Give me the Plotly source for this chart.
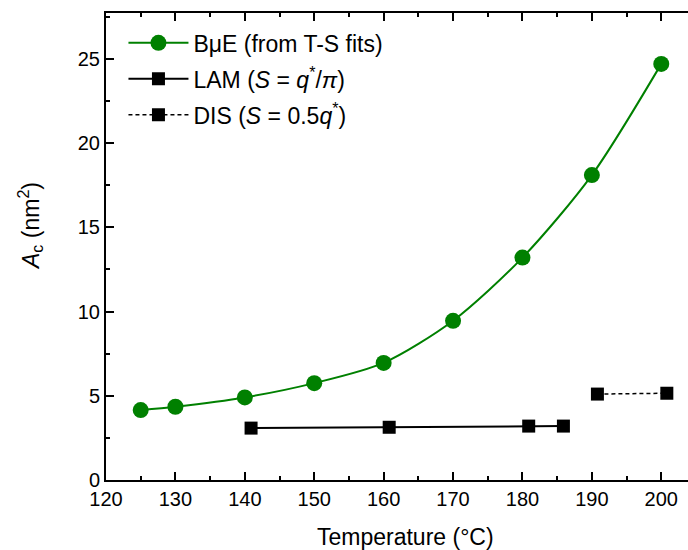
import plotly.graph_objects as go

# Data
bue_T = [125, 130, 140, 150, 160, 170, 180, 190, 200]
bue_A = [4.15, 4.35, 4.9, 5.75, 6.95, 9.45, 13.2, 18.1, 24.7]

lam_T = [140.9, 160.8, 180.9, 185.9]
lam_A = [3.08, 3.13, 3.2, 3.2]

dis_T = [190.8, 200.8]
dis_A = [5.1, 5.15]

x_ticks = [120, 130, 140, 150, 160, 170, 180, 190, 200]
y_ticks = [0, 5, 10, 15, 20, 25]

FONT = "Liberation Sans, Arial, sans-serif"

fig = go.Figure()
fig.add_trace(go.Scatter(
    x=bue_T, y=bue_A, mode="lines+markers",
    name="BμE (from T-S fits)", legendgroup="a",
    line=dict(color="#008000", width=2, shape="spline", smoothing=0.8),
    marker=dict(symbol="circle", size=16, color="#008000"),
))
fig.add_trace(go.Scatter(
    x=lam_T, y=lam_A, mode="lines+markers",
    name="LAM (<i>S</i> = <i>q</i><sup>*</sup>/<i>π</i>)", legendgroup="b",
    line=dict(color="black", width=2),
    marker=dict(symbol="square", size=13, color="black"),
))
fig.add_trace(go.Scatter(
    x=dis_T, y=dis_A, mode="lines+markers",
    name="DIS (<i>S</i> = 0.5<i>q</i><sup>*</sup>)", legendgroup="c",
    line=dict(color="black", width=1.5, dash="4px,3px"),
    marker=dict(symbol="square", size=13, color="black"),
))

axis_common = dict(
    showgrid=False, zeroline=False,
    showline=True, linecolor="black", linewidth=2,
    ticks="inside", ticklen=8, tickwidth=1.5, tickcolor="black",
    tickfont=dict(family=FONT, size=20, color="black"),
)

fig.update_xaxes(
    **axis_common,
    range=[120, 203.85],
    tickvals=x_ticks, ticktext=[str(v) for v in x_ticks],
    mirror="ticks",
    minor=dict(dtick=5, tick0=120, ticks="inside", ticklen=4, tickwidth=1.5, tickcolor="black"),
)
fig.update_yaxes(
    **axis_common,
    range=[0, 27.72],
    tickvals=y_ticks, ticktext=[str(v) for v in y_ticks],
    minor=dict(dtick=2.5, tick0=0, ticks="inside", ticklen=4, tickwidth=1.5, tickcolor="black"),
)

fig.add_annotation(
    text="Temperature (°C)",
    xref="paper", yref="paper",
    x=(406 - 106) / 582, y=(480 - 537) / 467,
    xanchor="center", yanchor="middle", showarrow=False,
    font=dict(family=FONT, size=23, color="black"),
)
fig.add_annotation(
    text="<i>A</i><sub>c</sub> (nm<sup>2</sup>)",
    xref="paper", yref="paper",
    x=(30 - 106) / 582, y=(480 - 226) / 467,
    xanchor="center", yanchor="middle",
    textangle=-90, showarrow=False,
    font=dict(family=FONT, size=23, color="black"),
)

fig.update_layout(
    width=688, height=550,
    margin=dict(l=106, r=0, t=13, b=70),
    paper_bgcolor="white", plot_bgcolor="white",
    showlegend=True,
    legend=dict(
        x=0.03, y=0.982, xanchor="left", yanchor="top",
        bgcolor="rgba(0,0,0,0)",
        font=dict(family=FONT, size=23, color="black"),
        itemwidth=60, tracegroupgap=3,
    ),
)

fig.write_html("out.html")
